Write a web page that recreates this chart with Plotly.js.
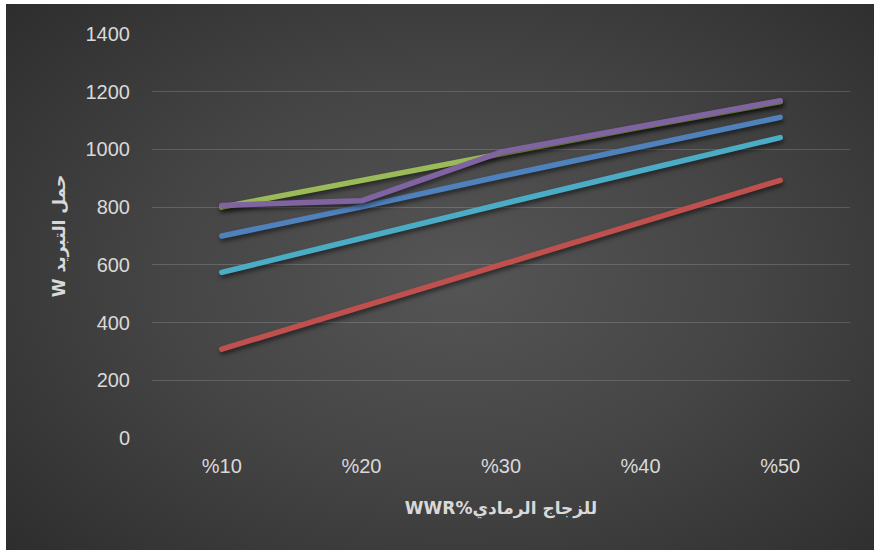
<!DOCTYPE html>
<html>
<head>
<meta charset="utf-8">
<script src="https://cdn.plot.ly/plotly-3.0.1.min.js"></script>
<style>
  html, body { margin: 0; padding: 0; background: #ffffff; width: 874px; height: 550px; overflow: hidden; }
  #chart {
    position: absolute; left: 6px; top: 4px; width: 868px; height: 546px;
    background: radial-gradient(ellipse 75% 80% at 52% 50%, #555555 0%, #454545 45%, #343434 80%, #2a2a2a 100%);
  }
  #chart .scatterlayer .trace path.js-line {
    stroke-linecap: round;
    stroke-linejoin: round;
    filter: drop-shadow(1px 3px 2px rgba(0,0,0,0.5));
  }
</style>
</head>
<body>
<div id="chart"></div>
<script>
// Window-to-wall ratio categories (x axis)
const wwr = ['%10', '%20', '%30', '%40', '%50'];

// Cooling load (W) per glazing case
const seriesBlue   = [700, 801, 907, 1008, 1111];
const seriesRed    = [308, 454, 600, 746, 893];
const seriesGreen  = [800, 892, 988, 1077, 1165];
const seriesPurple = [806, 822, 991, 1080, 1169];
const seriesCyan   = [574, 694, 810, 926, 1041];

const seriesNames  = ['حالة 1', 'حالة 2', 'حالة 3', 'حالة 4', 'حالة 5'];
const seriesColors = ['#4f81bd', '#c0504d', '#9bbb59', '#8064a2', '#4bacc6'];
const seriesValues = [seriesBlue, seriesRed, seriesGreen, seriesPurple, seriesCyan];

const yTicks = [0, 200, 400, 600, 800, 1000, 1200, 1400];

const traces = seriesValues.map((vals, i) => ({
  type: 'scatter',
  mode: 'lines',
  x: wwr,
  y: vals,
  name: seriesNames[i],
  line: { color: seriesColors[i], width: 5.5 }
}));

const tickFont = { family: 'Liberation Sans, Arial, sans-serif', size: 20, color: '#d9d9d9' };
const titleFont = { family: 'DejaVu Sans, Liberation Sans, sans-serif', size: 17, color: '#d9d9d9', weight: 'bold' };

const layout = {
  width: 868,
  height: 546,
  paper_bgcolor: 'rgba(0,0,0,0)',
  plot_bgcolor: 'rgba(0,0,0,0)',
  showlegend: false,
  margin: { l: 146, r: 24, t: 30, b: 112 },
  xaxis: {
    type: 'category',
    categoryarray: wwr,
    range: [-0.5, 4.5],
    showgrid: false,
    zeroline: false,
    showline: false,
    ticks: '',
    tickfont: tickFont,
    ticklabelstandoff: 14,
    automargin: false,
    title: { text: 'WWR%للزجاج الرمادي', font: titleFont, standoff: 26 }
  },
  yaxis: {
    range: [0, 1400],
    tickvals: yTicks,
    ticktext: yTicks.map(String),
    showgrid: true,
    gridcolor: 'rgba(255,255,255,0.16)',
    gridwidth: 1,
    zeroline: false,
    showline: false,
    ticks: '',
    tickfont: tickFont,
    ticklabelstandoff: 21,
    automargin: false,
    title: { text: 'W حمل التبريد', font: titleFont, standoff: 15 }
  }
};

Plotly.newPlot('chart', traces, layout, { staticPlot: true, displayModeBar: false });
</script>
</body>
</html>
